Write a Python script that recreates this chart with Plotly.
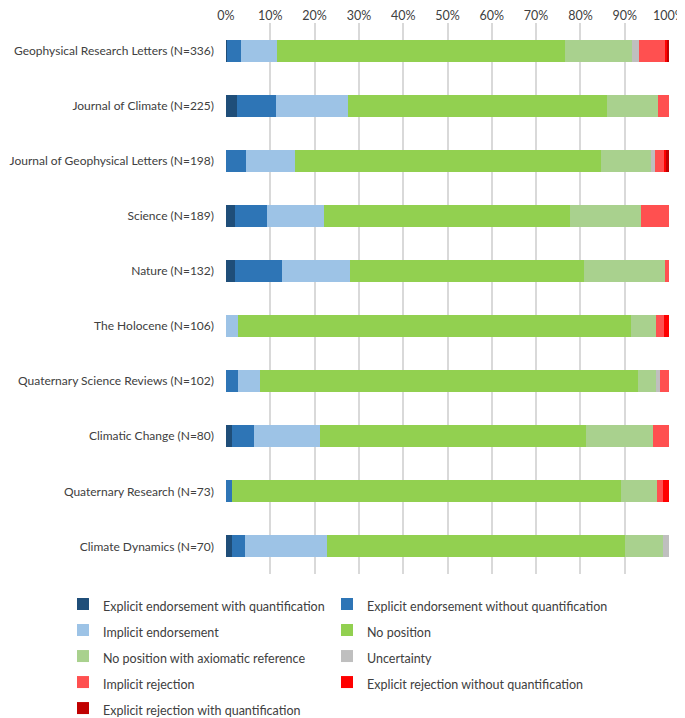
import plotly.graph_objects as go

journals = [
    "Geophysical Research Letters (N=336)",
    "Journal of Climate (N=225)",
    "Journal of Geophysical Letters (N=198)",
    "Science (N=189)",
    "Nature (N=132)",
    "The Holocene (N=106)",
    "Quaternary Science Reviews (N=102)",
    "Climatic Change (N=80)",
    "Quaternary Research (N=73)",
    "Climate Dynamics (N=70)",
]

expl_quant = [0.3, 2.5, 0.0, 2.0, 2.1, 0.0, 0.0, 1.3, 0.0, 1.4]
expl_noquant = [3.0, 8.8, 4.5, 7.3, 10.6, 0.0, 2.8, 5.0, 1.4, 2.9]
implicit_end = [8.3, 16.2, 11.0, 12.8, 15.3, 2.6, 4.9, 15.0, 0.0, 18.6]
no_position = [64.9, 58.5, 69.2, 55.6, 52.9, 88.8, 85.3, 60.0, 87.7, 67.1]
axiomatic = [15.2, 11.6, 11.2, 16.0, 18.2, 5.7, 4.0, 15.0, 8.2, 8.6]
uncertainty = [1.5, 0.0, 0.9, 0.0, 0.0, 0.0, 1.0, 0.0, 0.0, 1.4]
impl_rej = [6.0, 2.4, 2.1, 6.3, 0.9, 1.7, 2.0, 3.7, 1.4, 0.0]
expl_rej_noquant = [0.3, 0.0, 0.4, 0.0, 0.0, 1.2, 0.0, 0.0, 1.4, 0.0]
expl_rej_quant = [0.6, 0.0, 0.7, 0.0, 0.0, 0.0, 0.0, 0.0, 0.0, 0.0]

series_names = [
    "Explicit endorsement with quantification",
    "Explicit endorsement without quantification",
    "Implicit endorsement",
    "No position",
    "No position with axiomatic reference",
    "Uncertainty",
    "Implicit rejection",
    "Explicit rejection without quantification",
    "Explicit rejection with quantification",
]
series_values = [expl_quant, expl_noquant, implicit_end, no_position, axiomatic,
                 uncertainty, impl_rej, expl_rej_noquant, expl_rej_quant]
series_colors = ["#1F4E79", "#2E75B6", "#9DC3E6", "#92D050", "#A9D18E",
                 "#BFBFBF", "#FF5050", "#FF0000", "#C00000"]

x_ticks = list(range(0, 101, 10))
x_ticklabels = [f"{v}%" for v in x_ticks]

FONT = "Lato, 'Open Sans', sans-serif"
TEXT = "#404040"

fig = go.Figure()
for i, (name, vals, col) in enumerate(zip(series_names, series_values, series_colors)):
    fig.add_trace(go.Bar(
        y=journals, x=vals, name=f"<span style='font-size:12.5px'>{name}</span>",
        orientation="h", marker=dict(color=col, line=dict(width=0)),
        legend="legend" if i % 2 == 0 else "legend2",
    ))

legend_common = dict(orientation="v", y=-0.0218, yanchor="top", xanchor="left",
                     traceorder="normal", bgcolor="rgba(0,0,0,0)",
                     font=dict(size=17.7, color=TEXT, family=FONT))

# page body has an 8px margin, so the figure is sized to the remaining viewport
fig.update_layout(
    width=677, height=710,
    barmode="stack", bargap=0.6,
    paper_bgcolor="white", plot_bgcolor="white",
    margin=dict(l=218, r=16, t=15, b=144, autoexpand=False),
    font=dict(family=FONT, size=12, color=TEXT),
    xaxis=dict(side="top", range=[0, 100], tickvals=x_ticks, ticktext=x_ticklabels,
               showgrid=True, gridcolor="#D9D9D9", gridwidth=1.5, zeroline=False,
               showline=False, ticks="", ticklabeloverflow="allow",
               tickfont=dict(size=12.5, color=TEXT)),
    yaxis=dict(categoryorder="array", categoryarray=journals, autorange="reversed",
               showgrid=False, zeroline=False, showline=False, ticks="",
               ticklabelstandoff=11, tickfont=dict(size=12, color=TEXT)),
    legend=dict(x=-0.368, **legend_common),
    legend2=dict(x=0.228, **legend_common),
    showlegend=True,
)

fig.write_html("out.html")
